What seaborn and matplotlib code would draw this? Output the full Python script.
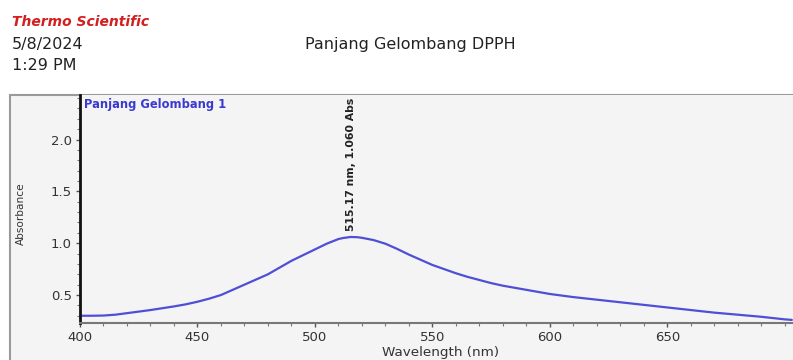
import matplotlib
matplotlib.use("Agg")
import matplotlib.pyplot as plt
import matplotlib.patches as patches
from matplotlib.ticker import MultipleLocator
import numpy as np
import pandas as pd
import seaborn as sns

# spectrum (nm, Abs)
wavelength = [400, 405, 410, 415, 420, 430, 440, 445, 450, 455, 460, 465, 470, 475, 480,
              485, 490, 495, 500, 505, 510, 512, 515.17, 518, 520, 525, 530, 535, 540,
              545, 550, 555, 560, 565, 570, 575, 580, 585, 590, 600, 610, 620, 630, 640,
              650, 660, 670, 680, 690, 700, 703]
absorbance = [0.30, 0.30, 0.302, 0.31, 0.325, 0.355, 0.39, 0.41, 0.435, 0.465, 0.50, 0.55,
              0.60, 0.65, 0.70, 0.765, 0.83, 0.885, 0.94, 0.995, 1.04, 1.05, 1.06, 1.058,
              1.052, 1.03, 0.995, 0.945, 0.89, 0.84, 0.79, 0.75, 0.71, 0.675, 0.645, 0.615,
              0.59, 0.57, 0.55, 0.51, 0.48, 0.455, 0.43, 0.405, 0.38, 0.355, 0.33, 0.31,
              0.29, 0.265, 0.26]
peak_nm = 515.17
peak_abs = 1.060
x_ticks = [400, 450, 500, 550, 600, 650]
y_ticks = [0.5, 1.0, 1.5, 2.0]

sns.set_style("white")
plt.rcParams['font.family'] = ['DejaVu Sans']

W, H = 793, 360
fig = plt.figure(figsize=(W / 100, H / 100), dpi=100, facecolor='white')

# gray report frame behind the chart
frame = patches.Rectangle((10 / W, -0.05), 1.0, 1 - 95 / H + 0.05, transform=fig.transFigure,
                          facecolor='#f4f4f4', edgecolor='#9a9a9a', linewidth=1.5, zorder=-10)
fig.patches.append(frame)

fig.text(12 / W, 1 - 22 / H, 'Thermo Scientific', color='#d21f1f', fontsize=10,
         fontweight='bold', fontstyle='italic', va='center', ha='left')
fig.text(12 / W, 1 - 45 / H, '5/8/2024', color='#222222', fontsize=11.5, va='center', ha='left')
fig.text(12 / W, 1 - 65 / H, '1:29 PM', color='#222222', fontsize=11.5, va='center', ha='left')
fig.text(410 / W, 1 - 45 / H, 'Panjang Gelombang DPPH', color='#222222', fontsize=11.5,
         va='center', ha='center')

ax = fig.add_axes([80 / W, 1 - 323 / H, 1 - 80 / W, (323 - 95) / H])
ax.set_zorder(1)
ax.set_facecolor('#f4f4f4')

df = pd.DataFrame({'Wavelength': wavelength, 'Absorbance': absorbance})
sns.lineplot(data=df, x='Wavelength', y='Absorbance', ax=ax, color='#4f4fd6', linewidth=1.6)

ax.set_xlim(400, 703.5)
ax.set_ylim(0.23, 2.43)
ax.set_xticks(x_ticks)
ax.set_yticks(y_ticks)
ax.set_yticklabels([f'{v:.1f}' for v in y_ticks])
ax.xaxis.set_minor_locator(MultipleLocator(10))
ax.yaxis.set_minor_locator(MultipleLocator(0.1))
ax.tick_params(axis='both', which='major', direction='out', length=3, width=1,
               color='#555555', labelsize=9.5, labelcolor='#333333', pad=3)
ax.tick_params(axis='both', which='minor', direction='out', length=2, width=0.8, color='#777777')
ax.tick_params(axis='x', which='both', bottom=True)
ax.tick_params(axis='y', which='both', left=True)

for side in ['top', 'right']:
    ax.spines[side].set_visible(False)
ax.spines['left'].set_color('#111111')
ax.spines['left'].set_linewidth(2)
ax.spines['bottom'].set_color('#777777')
ax.spines['bottom'].set_linewidth(1.5)

ax.set_xlabel('Wavelength (nm)', fontsize=9.7, color='#333333')
ax.xaxis.set_label_coords((441 - 80) / (W - 80), -0.1)
ax.set_ylabel('Absorbance', fontsize=7.6, color='#333333')
ax.yaxis.set_label_coords(-0.076, 0.478)

ax.text(0.005, 0.985, 'Panjang Gelombang 1', transform=ax.transAxes, color='#3a3ad0',
        fontsize=8.3, fontweight='bold', va='top', ha='left')
ax.annotate(f'{peak_nm:.2f} nm, {peak_abs:.3f} Abs', xy=(peak_nm, peak_abs),
            xytext=(0, 4), textcoords='offset points', rotation=90, fontsize=7.8,
            fontweight='bold', color='#222222', ha='center', va='bottom')

fig.savefig('out.png', dpi=100, facecolor='white')
